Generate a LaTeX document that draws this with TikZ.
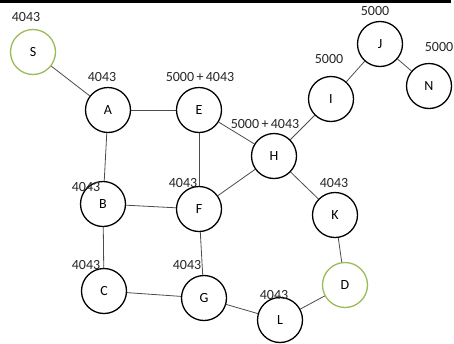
\documentclass[tikz,border=0pt]{standalone}
\usepackage{fontspec}
\setmainfont{Carlito}
\usetikzlibrary{backgrounds}
\definecolor{olivegreen}{HTML}{9BBB59}
\begin{document}
\begin{tikzpicture}[x=1pt,y=-1pt,
  vtx/.style={circle,draw=black,line width=1.3pt,minimum size=45pt,inner sep=0pt,font=\fontsize{14}{16}\selectfont,fill=white},
  endvtx/.style={vtx,draw=olivegreen},
  cost/.style={font=\fontsize{14}{16}\selectfont,inner sep=0pt,text=black!85},
  link/.style={draw=black!70,line width=0.8pt}]
\useasboundingbox (0,0) rectangle (454,343);
\fill[black] (0,0) rectangle (451,3);
% vertices
\node[endvtx] (S) at (33,52) {S};
\node[vtx] (A) at (108,110) {A};
\node[vtx] (E) at (199,110) {E};
\node[vtx] (I) at (331,99) {I};
\node[vtx] (J) at (380,44) {J};
\node[vtx] (N) at (429,86) {N};
\node[vtx] (H) at (274,156) {H};
\node[vtx] (K) at (335,215) {K};
\node[endvtx] (D) at (345,285) {D};
\node[vtx] (L) at (280,320) {L};
\node[vtx] (G) at (204,298) {G};
\node[vtx] (C) at (104,291) {C};
\node[vtx] (B) at (103,204) {B};
\node[vtx] (F) at (199,209) {F};
% edges, kept behind the vertices
\begin{pgfonlayer}{background}
\foreach \u/\v in {S/A,A/E,A/B,E/F,E/H,H/I,I/J,J/N,H/F,H/K,K/D,D/L,L/G,G/F,G/C,C/B,B/F}
  \draw[link] (\u) -- (\v);
\end{pgfonlayer}
% costs
\node[cost] (cS) at (26,17) {4043};
\node[cost] (cA) at (102,77) {4043};
\node[cost] (cE) at (200,77) {5000\,+\,4043};
\node[cost] (cI) at (329,59) {5000};
\node[cost] (cJ) at (375,11) {5000};
\node[cost] (cN) at (439,47) {5000};
\node[cost] (cH) at (265,124) {5000\,+\,4043};
\node[cost] (cK) at (334,183) {4043};
\node[cost] (cL) at (274,295) {4043};
\node[cost] (cG) at (187,265) {4043};
\node[cost] (cC) at (86,265) {4043};
\node[cost] (cB) at (86,187) {4043};
\node[cost] (cF) at (183,183) {4043};
\end{tikzpicture}
\end{document}
